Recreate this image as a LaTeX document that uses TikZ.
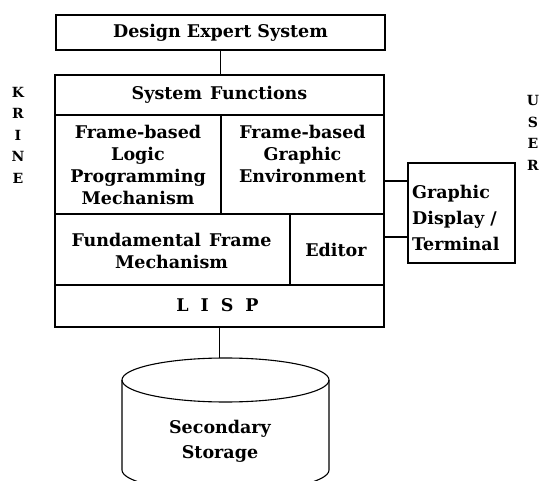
\documentclass[tikz,border=0pt]{standalone}
\usepackage{fontspec}
\setmainfont{DejaVu Serif}
\begin{document}
\begin{tikzpicture}[x=1pt,y=-1pt,
  cell/.style={draw=black, line width=1.1pt, inner sep=0pt, outer sep=0pt, rectangle},
  txt/.style={font=\fontsize{17.5}{22}\selectfont\bfseries, align=center, inner sep=0pt},
  side/.style={font=\fontsize{14}{21.5}\selectfont\bfseries, align=center, inner sep=0pt},
  wire/.style={draw=black, line width=1.1pt}]
\clip (0,0) rectangle (544,481);
\fill[white] (0,0) rectangle (544,481);
% top box
\node[cell, minimum width=329, minimum height=35] (des) at (220.5,32.5) {};
\node[txt] (dest) at (des.center) {Design Expert System};
% main stack
\node[cell, minimum width=329, minimum height=40] (sysf) at (219.5,95) {};
\node[txt] (sysft) at (sysf.center) {System\hspace{8pt}Functions};
\node[cell, minimum width=166, minimum height=99] (logic) at (138,164.5) {};
\node[txt] (logict) at (138,165) {Frame-based\\Logic\\Programming\\Mechanism};
\node[cell, minimum width=163, minimum height=99] (genv) at (302.5,164.5) {};
\node[txt] (genvt) at (302.5,154) {Frame-based\\Graphic\\Environment};
\node[cell, minimum width=235, minimum height=71] (fund) at (172.5,249.5) {};
\node[txt] (fundt) at (171.5,251) {Fundamental\hspace{8pt}Frame\\Mechanism};
\node[cell, minimum width=94, minimum height=71] (editor) at (337,249.5) {};
\node[txt] (editort) at (336,250) {Editor};
\node[cell, minimum width=329, minimum height=42] (lisp) at (219.5,306) {};
\node[txt] (lispt) at (217.5,305) {L\hspace{12pt}I\hspace{12pt}S\hspace{12pt}P};
% graphic display
\node[cell, minimum width=107, minimum height=100] (gdisp) at (461.5,213) {};
\node[txt, align=left, anchor=west, font=\fontsize{17.5}{26}\selectfont\bfseries] (gdispt) at (412,218) {Graphic\\Display /\\Terminal};
% side labels
\node[side] (krine) at (18,135) {K\\R\\I\\N\\E};
\node[side] (user) at (533,133) {U\\S\\E\\R};
% cylinder
\draw[wire] (225.5,380) ellipse [x radius=103.5, y radius=22];
\draw[wire] (122,380) -- (122,470) arc [start angle=180, end angle=0, x radius=103.5, y radius=22] -- (329,380);
\coordinate (cyltop) at (219.5,358);
\node[txt, font=\fontsize{17.5}{25}\selectfont\bfseries] (cylt) at (220,441) {Secondary\\Storage};
% connectors
\draw[wire] (des.south) -- (des.south |- sysf.north);
\draw[wire] (lisp.south) -- (cyltop);
\draw[wire] ([yshift=-18pt]gdisp.north west) -- ([yshift=-18pt]gdisp.north west -| genv.east);
\draw[wire] ([yshift=26pt]gdisp.south west) -- ([yshift=26pt]gdisp.south west -| editor.east);
\end{tikzpicture}
\end{document}
